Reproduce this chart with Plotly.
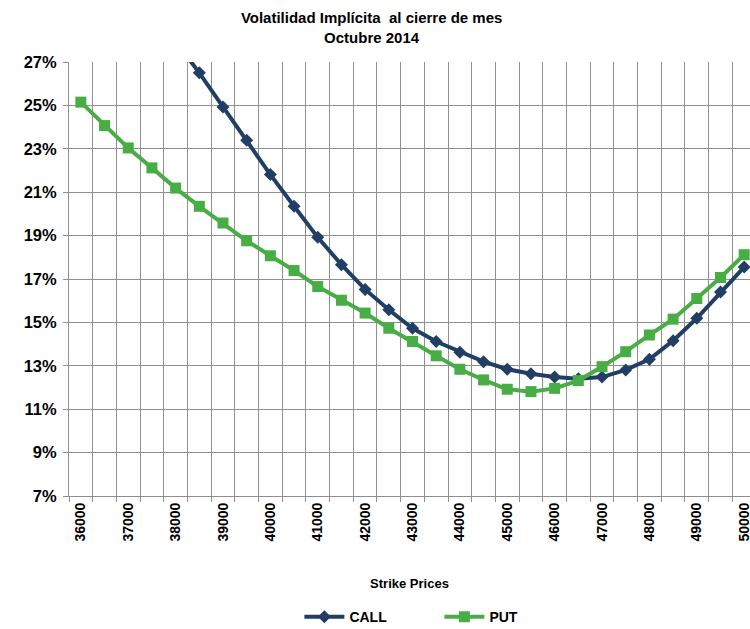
import plotly.graph_objects as go

strikes = [36000, 36500, 37000, 37500, 38000, 38500, 39000, 39500, 40000, 40500,
           41000, 41500, 42000, 42500, 43000, 43500, 44000, 44500, 45000, 45500,
           46000, 46500, 47000, 47500, 48000, 48500, 49000, 49500, 50000]

call_vol = [None, None, None, None, 27.95, 26.50, 24.93, 23.39, 21.81, 20.35,
            18.92, 17.66, 16.52, 15.58, 14.73, 14.12, 13.63, 13.19, 12.84, 12.63,
            12.48, 12.40, 12.48, 12.81, 13.30, 14.16, 15.19, 16.40, 17.55]

put_vol = [25.15, 24.07, 23.04, 22.12, 21.19, 20.35, 19.58, 18.76, 18.07, 17.39,
           16.65, 16.02, 15.43, 14.73, 14.12, 13.46, 12.84, 12.35, 11.92, 11.81,
           11.96, 12.32, 12.96, 13.65, 14.42, 15.15, 16.10, 17.07, 18.12]

x_ticks = [36000, 37000, 38000, 39000, 40000, 41000, 42000, 43000, 44000, 45000,
           46000, 47000, 48000, 49000, 50000]

CALL_COLOR = "#213F65"
PUT_COLOR = "#48AD45"
GRID = "#8f8f8f"
FONT = "Liberation Sans, Arial, sans-serif"

fig = go.Figure()
fig.add_trace(go.Scatter(
    x=strikes, y=call_vol, name="CALL", mode="lines+markers",
    line=dict(color=CALL_COLOR, width=4),
    marker=dict(symbol="diamond", size=10, color=CALL_COLOR),
    connectgaps=False, cliponaxis=True,
))
fig.add_trace(go.Scatter(
    x=strikes, y=put_vol, name="PUT", mode="lines+markers",
    line=dict(color=PUT_COLOR, width=4),
    marker=dict(symbol="square", size=11, color=PUT_COLOR),
    cliponaxis=False,
))

fig.update_layout(
    width=750, height=629,
    margin=dict(l=69, r=0, t=62, b=133, autoexpand=False),
    paper_bgcolor="white", plot_bgcolor="white",
    font=dict(family=FONT, color="black", size=13),
    title=dict(
        text="Volatilidad Implícita  al cierre de mes<br>Octubre 2014",
        x=0.4955, xanchor="center", yref="container", y=0.963, yanchor="top",
        font=dict(family=FONT, size=15, weight="bold", color="black"),
    ),
    showlegend=True,
    legend=dict(
        orientation="h", x=0.3383, xanchor="left", y=-0.279, yanchor="middle",
        font=dict(family=FONT, size=14, weight="bold", color="black"),
        entrywidth=85, entrywidthmode="pixels",
        bgcolor="rgba(0,0,0,0)", itemwidth=40,
    ),
)

fig.update_xaxes(
    type="linear", range=[35750, 50123], automargin=False,
    tickvals=x_ticks, ticktext=[str(v) for v in x_ticks],
    tickangle=-90, ticks="", showgrid=False, ticklabelstandoff=0,
    ticklabeloverflow="allow",
    tickfont=dict(family=FONT, size=14, weight="bold", color="black"),
    showline=True, linecolor=GRID, linewidth=1,
    zeroline=False,
    minor=dict(tick0=35750, dtick=500, showgrid=True, gridcolor=GRID, gridwidth=1,
               ticks="outside", ticklen=5, tickcolor=GRID),
    title=dict(text="Strike Prices", standoff=38,
               font=dict(family=FONT, size=13, weight="bold", color="black")),
)

fig.update_yaxes(
    range=[7, 27], tick0=7, dtick=2, ticksuffix="%", automargin=False,
    showgrid=True, gridcolor=GRID, gridwidth=1,
    ticks="outside", ticklen=5, tickcolor=GRID, ticklabelstandoff=3,
    showline=True, linecolor=GRID, linewidth=1,
    zeroline=False,
    tickfont=dict(family=FONT, size=16.5, weight="bold", color="black"),
)

fig.write_html(
    "out.html",
    config={"displayModeBar": False},
    post_script=(
        "document.documentElement.style.margin='0';"
        "document.body.style.margin='0';"
        "document.documentElement.style.overflow='hidden';"
        "document.body.style.overflow='hidden';"
    ),
)
